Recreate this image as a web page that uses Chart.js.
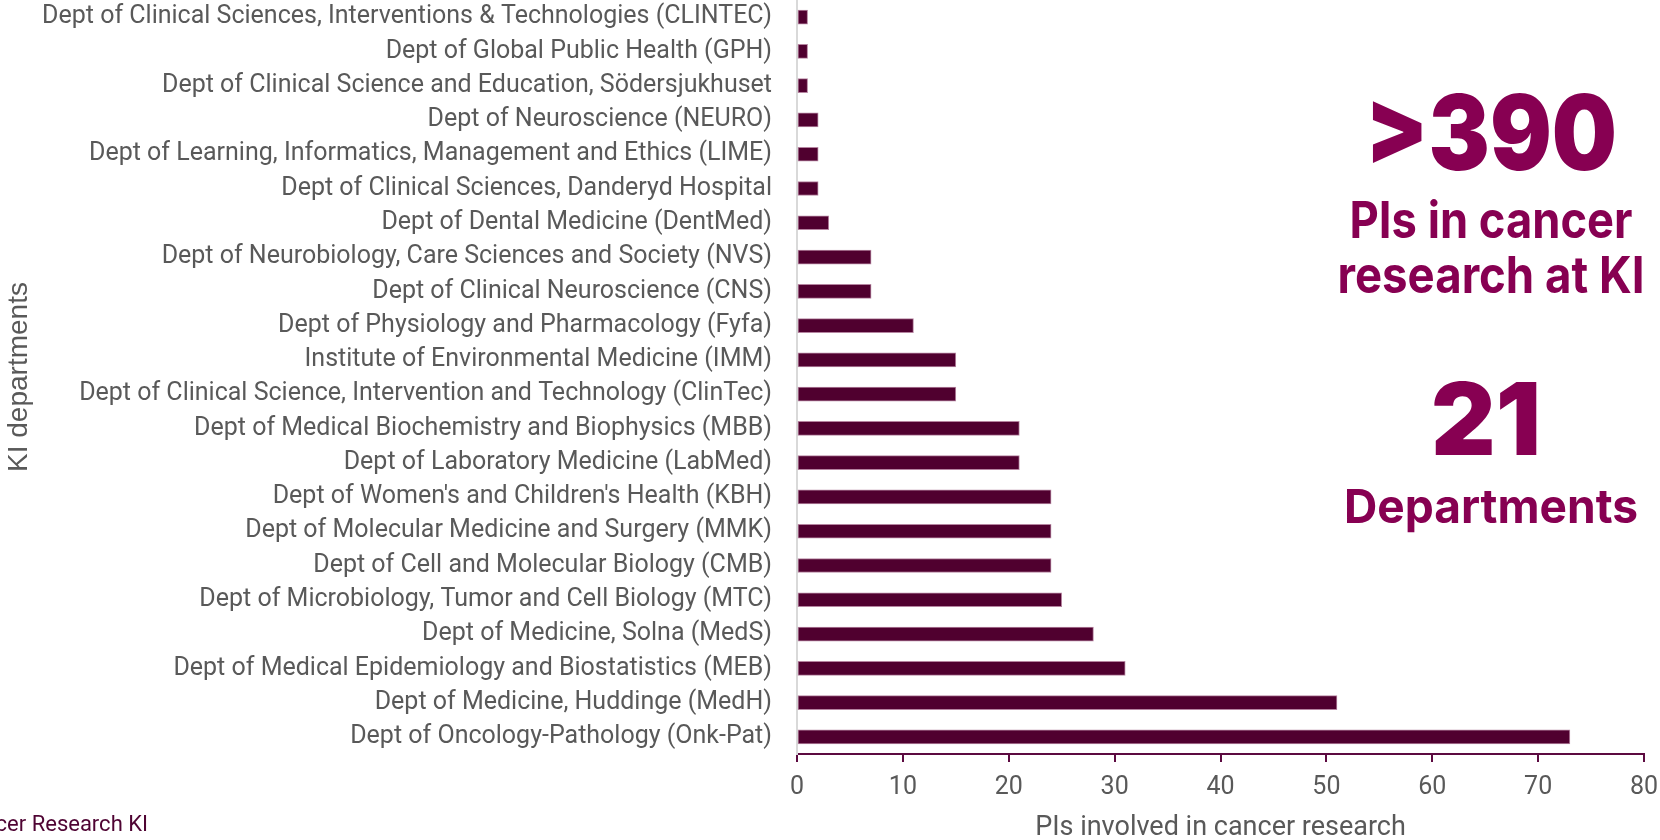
<!DOCTYPE html>
<html>
<head>
    <title>PIs in cancer research at KI</title>
    <script src="https://cdn.jsdelivr.net/npm/chart.js"></script>
    <style>
        html, body { margin: 0; padding: 0; background: #fff; overflow: hidden; }
        .chart-container { width: 1660px; height: 840px; position: relative; }
    </style>
</head>
<body>
    <div class="chart-container">
        <canvas id="myChart"></canvas>
    </div>

    <script>
        const departments = [
            "Dept of Clinical Sciences, Interventions & Technologies (CLINTEC)",
            "Dept of Global Public Health (GPH)",
            "Dept of Clinical Science and Education, Södersjukhuset",
            "Dept of Neuroscience (NEURO)",
            "Dept of Learning, Informatics, Management and Ethics (LIME)",
            "Dept of Clinical Sciences, Danderyd Hospital",
            "Dept of Dental Medicine (DentMed)",
            "Dept of Neurobiology, Care Sciences and Society (NVS)",
            "Dept of Clinical Neuroscience (CNS)",
            "Dept of Physiology and Pharmacology (Fyfa)",
            "Institute of Environmental Medicine (IMM)",
            "Dept of Clinical Science, Intervention and Technology (ClinTec)",
            "Dept of Medical Biochemistry and Biophysics (MBB)",
            "Dept of Laboratory Medicine (LabMed)",
            "Dept of Women's and Children's Health (KBH)",
            "Dept of Molecular Medicine and Surgery (MMK)",
            "Dept of Cell and Molecular Biology (CMB)",
            "Dept of Microbiology, Tumor and Cell Biology (MTC)",
            "Dept of Medicine, Solna (MedS)",
            "Dept of Medical Epidemiology and Biostatistics (MEB)",
            "Dept of Medicine, Huddinge (MedH)",
            "Dept of Oncology-Pathology (Onk-Pat)"
        ];

        const piCounts = [1, 1, 1, 2, 2, 2, 3, 7, 7, 11, 15, 15, 21, 21, 24, 24, 24, 25, 28, 31, 51, 73];

        const xTicks = [0, 10, 20, 30, 40, 50, 60, 70, 80];

        const headline = [
            { text: ">390", font: "900 104px Inter", y: 170, maxWidth: 252 },
            { text: "PIs in cancer", font: "700 51px Inter", y: 238, maxWidth: 283 },
            { text: "research at KI", font: "700 51px Inter", y: 293, maxWidth: 307 },
            { text: "21", font: "900 100px Inter", y: 455, maxWidth: 116, x: 1486 },
            { text: "Departments", font: "700 47px Inter", y: 523, maxWidth: 294 }
        ];

        const plum = '#870052';
        const barColor = '#50002f';
        const textGray = '#595959';

        const annotationsPlugin = {
            id: 'annotations',
            afterDraw(chart) {
                const ctx = chart.ctx;
                ctx.save();
                ctx.fillStyle = plum;
                ctx.textAlign = 'center';
                ctx.textBaseline = 'alphabetic';
                headline.forEach(h => {
                    ctx.font = h.font;
                    ctx.fillText(h.text, h.x || 1491, h.y, h.maxWidth);
                });
                // source text, cut off on the left edge
                ctx.font = '22px Roboto';
                ctx.fillStyle = '#4f0433';
                ctx.textAlign = 'right';
                ctx.textBaseline = 'middle';
                ctx.fillText('Cancer Research KI', 148, 825);
                ctx.restore();
            }
        };

        const ctx = document.getElementById('myChart');
        new Chart(ctx, {
            type: 'bar',
            data: {
                labels: departments,
                datasets: [{
                    data: piCounts,
                    backgroundColor: barColor,
                    borderColor: 'rgba(150, 80, 120, 0.7)',
                    borderWidth: 1,
                    borderSkipped: false,
                    barThickness: 14
                }]
            },
            options: {
                indexAxis: 'y',
                responsive: true,
                maintainAspectRatio: false,
                animation: false,
                layout: {
                    padding: { left: 0, right: 16, top: 0, bottom: 0 }
                },
                scales: {
                    x: {
                        min: 0,
                        max: 80,
                        afterBuildTicks: (scale) => {
                            scale.ticks = xTicks.map(v => ({ value: v }));
                        },
                        afterFit: (scale) => {
                            scale.height = 86;
                            scale.paddingLeft = 0;
                            scale.paddingRight = 0;
                        },
                        grid: {
                            drawOnChartArea: false,
                            drawTicks: true,
                            tickLength: 8,
                            color: '#5c0a40',
                            lineWidth: 2
                        },
                        border: { color: '#5c0a40', width: 2 },
                        ticks: {
                            color: textGray,
                            padding: 11,
                            font: { family: 'Roboto', size: 25 }
                        },
                        title: {
                            display: true,
                            text: 'PIs involved in cancer research',
                            color: textGray,
                            padding: { top: 0, bottom: -4 },
                            font: { family: 'Roboto', size: 27 }
                        }
                    },
                    y: {
                        afterFit: (scale) => {
                            scale.width = 797;
                            scale.paddingTop = 0;
                            scale.paddingBottom = 0;
                        },
                        grid: { display: false, drawTicks: false },
                        border: { color: '#d9d9d9', width: 2 },
                        ticks: {
                            color: textGray,
                            padding: 25,
                            autoSkip: false,
                            font: { family: 'Roboto', size: 25 }
                        },
                        title: {
                            display: true,
                            text: 'KI departments',
                            color: textGray,
                            padding: { top: 2, bottom: 0 },
                            font: { family: 'Liberation Sans', size: 28 }
                        }
                    }
                },
                plugins: {
                    legend: { display: false },
                    tooltip: { enabled: false }
                }
            },
            plugins: [annotationsPlugin]
        });
    </script>
</body>
</html>
